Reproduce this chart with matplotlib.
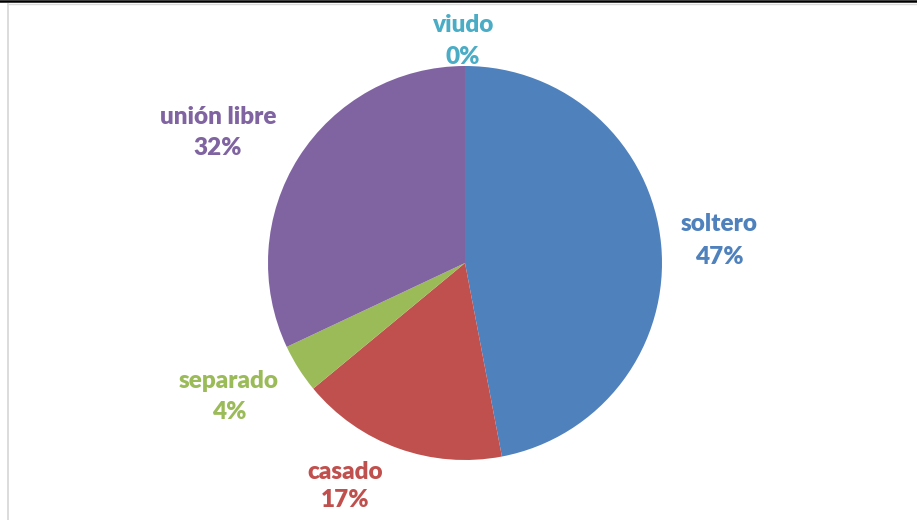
import matplotlib
matplotlib.use('Agg')
from matplotlib import pyplot as plt
from matplotlib.lines import Line2D

# marital status shares (%)
labels = ['soltero', 'casado', 'separado', 'unión libre', 'viudo']
values = [47, 17, 4, 32, 0.001]
pct_text = ['47%', '17%', '4%', '32%', '0%']
colors = ['#4F81BD', '#C0504D', '#9BBB59', '#8064A2', '#4BACC6']

W, H = 917, 520
fig = plt.figure(figsize=(W/100, H/100), dpi=100)
fig.patch.set_facecolor('white')

# pie centre (465, 263) px, radius 197 px
cx, cy, r = 465, 263, 197
ax = fig.add_axes([(cx-r)/W, (H-cy-r)/H, 2*r/W, 2*r/H])
ax.pie(values, colors=colors, startangle=90, counterclock=False,
       wedgeprops=dict(linewidth=0))
ax.set_xlim(-1, 1)
ax.set_ylim(-1, 1)
ax.set_aspect('equal')
ax.axis('off')

# label centres in pixels (name line, pct line)
label_pos = [(719, 224, 257), (345, 472, 500), (229, 381, 412),
             (218, 117, 148), (463, 25, 57)]
for name, pct, col, (x, y1, y2) in zip(labels, pct_text, colors, label_pos):
    fig.text(x/W, 1-y1/H, name, color=col, fontsize=17.5, fontweight='heavy',
             family='Lato', ha='center', va='center')
    fig.text(x/W, 1-y2/H, pct, color=col, fontsize=17.5, fontweight='heavy',
             family='Lato', ha='center', va='center')

# frame lines
fig.add_artist(Line2D([0, 1], [1-1/H, 1-1/H], color='black', lw=1.8))
fig.add_artist(Line2D([7.5/W, 1], [1-4/H, 1-4/H], color='#d9d9d9', lw=1))
fig.add_artist(Line2D([7.5/W, 7.5/W], [0, 1-4/H], color='#d9d9d9', lw=1.3))

fig.savefig('out.png', dpi=100)
